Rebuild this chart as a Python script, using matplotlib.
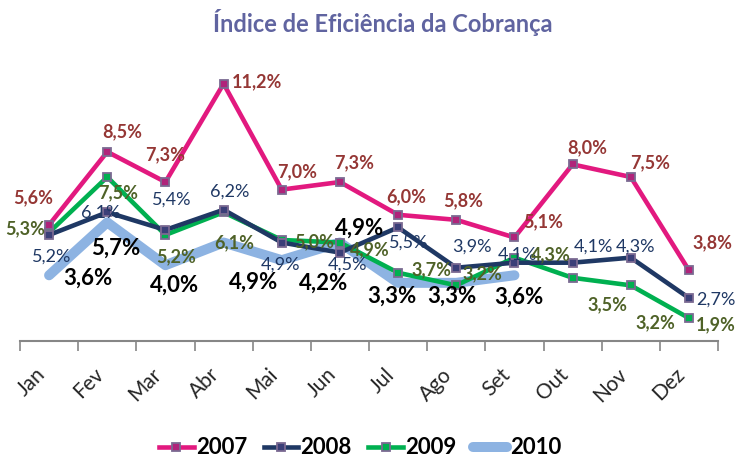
import numpy as np
import matplotlib.pyplot as plt
import matplotlib.transforms as mtransforms

plt.rcParams['font.family'] = ['Lato', 'DejaVu Sans']

meses = ['Jan', 'Fev', 'Mar', 'Abr', 'Mai', 'Jun', 'Jul', 'Ago', 'Set', 'Out', 'Nov', 'Dez']
v2007 = [5.6, 8.5, 7.3, 11.2, 7.0, 7.3, 6.0, 5.8, 5.1, 8.0, 7.5, 3.8]
v2008 = [5.2, 6.1, 5.4, 6.2, 4.9, 4.5, 5.5, 3.9, 4.1, 4.1, 4.3, 2.7]
v2009 = [5.3, 7.5, 5.2, 6.1, 5.0, 4.9, 3.7, 3.2, 4.3, 3.5, 3.2, 1.9]
v2010 = [3.6, 5.7, 4.0, 4.9, 4.2, 4.9, 3.3, 3.3, 3.6]

# deslocamento dos rotulos (pixels, x para direita, y para baixo)
off07 = [(-16, -27), (15, -20), (0, -27), (33, -2), (15, -18), (14, -19), (8, -18), (7, -19),
         (29, -16), (15, -17), (19, -14), (24, -27)]
off08 = [(3, 22), (-7, 0), (6, -30), (6, -18), (-1, 22), (8, 12), (11, 15), (16, -21),
         (3, -8), (21, -16), (5, -11), (27, 2)]
off09 = [(-24, -4), (11, 16), (11, 22), (11, 30), (32, 2), (30, 7), (33, -3), (26, -12),
         (36, -3), (35, 27), (25, 37), (27, 7)]
off10 = [(39, 3), (8, 26), (9, 20), (30, 40), (42, 23), (20, -14), (-6, 13), (-4, 13), (4, 22)]


def pct(v):
    return ('%.1f%%' % v).replace('.', ',')


fig = plt.figure(figsize=(7.36, 4.59), dpi=100)
ax = fig.add_axes([20 / 736, 1 - 340.8 / 459, 698 / 736, 277.2 / 459])

x = np.arange(len(meses))
mk = dict(marker='s', markersize=5.5, markeredgecolor='#7B6A92', markeredgewidth=1.3)

ax.plot(x[:len(v2010)], v2010, color='#8DB3E2', lw=7.2, solid_capstyle='round', label='2010', zorder=2)
ax.plot(x, v2009, color='#00B050', lw=3.3, markerfacecolor='#00B050', label='2009', zorder=3, **mk)
ax.plot(x, v2008, color='#1F3864', lw=3.3, markerfacecolor='#3B3F78', label='2008', zorder=4, **mk)
ax.plot(x, v2007, color='#E2197F', lw=3.3, markerfacecolor='#B0237A', label='2007', zorder=5, **mk)

series = [(v2007, off07, '#953735', 13, 'bold'),
          (v2008, off08, '#1F3864', 13, 'normal'),
          (v2009, off09, '#4F6228', 13, 'bold'),
          (v2010, off10, '#000000', 16, 'bold')]
for vals, offs, cor, fs, fw in series:
    for i, v in enumerate(vals):
        dx, dy = offs[i]
        ax.annotate(pct(v), (i, v), xytext=(dx, -dy), textcoords='offset pixels',
                    ha='center', va='center', color=cor, fontsize=fs, fontweight=fw, zorder=6)

ax.set_xlim(-0.5, len(meses) - 0.5)
ax.set_ylim(1, 12)
ax.set_xticks(np.arange(-0.5, len(meses), 1.0))
ax.set_xticklabels([])
ax.set_xticks(x, minor=True)
ax.set_xticklabels(meses, minor=True, rotation=45, ha='right', fontsize=15, color='#262626')
desloc = mtransforms.ScaledTranslation(6 / 100, 0, fig.dpi_scale_trans)
for t in ax.xaxis.get_minorticklabels():
    t.set_transform(t.get_transform() + desloc)
ax.tick_params(axis='x', which='major', length=7, width=1.2, color='#868686')
ax.tick_params(axis='x', which='minor', length=0, pad=17)
ax.set_yticks([])
for s in ['top', 'right', 'left']:
    ax.spines[s].set_visible(False)
ax.spines['bottom'].set_color('#868686')
ax.spines['bottom'].set_linewidth(1.5)
ax.patch.set_alpha(0)

fig.text(383 / 736, 1 - 22 / 459, 'Índice de Eficiência da Cobrança', ha='center', va='center',
         fontsize=17, fontweight='bold', color='#6064A0')

h, l = ax.get_legend_handles_labels()
order = [3, 2, 1, 0]
fig.legend([h[i] for i in order], [l[i] for i in order], loc='center', ncol=4,
           bbox_to_anchor=(360 / 736, 1 - 448 / 459), frameon=False,
           prop={'size': 16, 'weight': 'bold'}, handlelength=1.55, handletextpad=0.1,
           columnspacing=0.75)

fig.savefig('out.png', dpi=100)
